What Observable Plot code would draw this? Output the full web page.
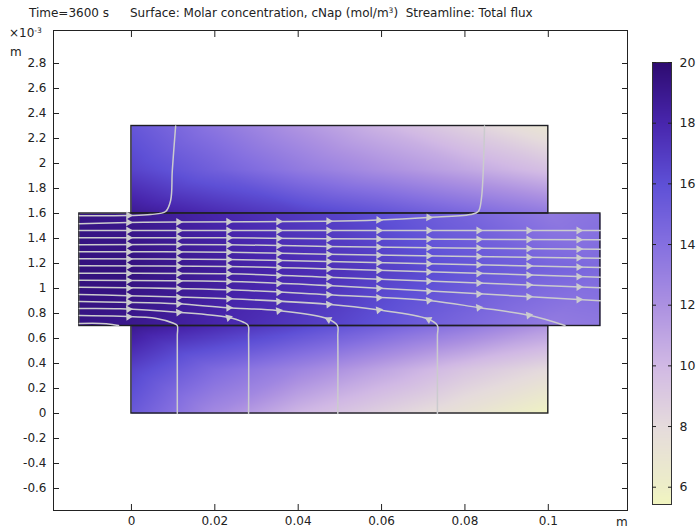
<!DOCTYPE html>
<html><head><meta charset="utf-8">
<script src="https://cdn.jsdelivr.net/npm/d3@7"></script>
<script src="https://cdn.jsdelivr.net/npm/@observablehq/plot@0.6"></script>
<style>
body{margin:0;background:#fff;font-family:"DejaVu Sans",sans-serif;}
#wrap{position:relative;width:700px;height:530px;overflow:hidden;background:#fff}
.t{position:absolute;font-size:12px;color:#222;white-space:pre;line-height:14px}
.t sup{font-size:7.5px;vertical-align:top;position:relative;top:-2px}
#main,#cbar{position:absolute;top:0}
#main{left:0}#cbar{left:630px}
</style></head><body>
<div id="wrap">
<div id="main"></div>
<div id="cbar"></div>
<div class="t" style="left:29px;top:6px">Time=3600 s</div>
<div class="t" style="left:130px;top:6px">Surface: Molar concentration, cNap (mol/m<sup>3</sup>)  Streamline: Total flux</div>
<div class="t" style="left:9px;top:26px">×10<sup>-3</sup></div>
<div class="t" style="left:10px;top:45px">m</div>
<div class="t" style="left:616px;top:515px">m</div>
</div>
<script>
// ---------- tick labels ----------
const xTicks = [0, 0.02, 0.04, 0.06, 0.08, 0.1];
const yTicks = [-0.6, -0.4, -0.2, 0, 0.2, 0.4, 0.6, 0.8, 1, 1.2, 1.4, 1.6, 1.8, 2, 2.2, 2.4, 2.6, 2.8];
const cbTicks = [6, 8, 10, 12, 14, 16, 18, 20];

// ---------- colour map (value -> colour) ----------
const colorStops = [5.43, 6, 8, 10, 12, 14, 16, 18, 20];
const colorRange = ["#f2f6c0", "#edeec8", "#e5dbdc", "#d1b9e4", "#ac91e1", "#8570e0", "#5e50d6", "#4826ad", "#2e0b70"];

// ---------- domains (x in m, y in 1e-3 m) ----------
const domainNames = ["upper", "lower", "channel"];
const domainX1 = [0, 0, -0.0125];
const domainX2 = [0.1, 0.1, 0.1125];
const domainY1 = [1.6, 0, 0.7];
const domainY2 = [2.3, 0.7, 1.6];

// ---------- concentration samples ----------
const upperX = [0, 0.02, 0.04, 0.06, 0.08, 0.1];
const upperY = [1.6, 1.95, 2.3];
const upperC = [
  [18.9, 17.8, 16.8, 15.8, 14.6, 13.4],
  [16.6, 15.0, 13.4, 12.1, 10.9, 9.6],
  [15.6, 13.6, 11.8, 10.2, 8.6, 7.0]
];
const lowerX = [0, 0.02, 0.04, 0.06, 0.08, 0.1];
const lowerY = [0, 0.35, 0.7];
const lowerC = [
  [15.4, 12.4, 10.1, 8.6, 7.2, 5.5],
  [16.6, 14.3, 12.7, 11.0, 9.3, 8.0],
  [19.0, 17.8, 16.5, 15.0, 13.5, 11.8]
];
const channelX = [-0.0125, 0, 0.025, 0.05, 0.075, 0.1, 0.1125];
const channelY = [0.7, 1.15, 1.6];
const channelC = [
  [19.3, 19.0, 17.8, 16.5, 14.8, 13.3, 13.5],
  [19.6, 19.5, 18.4, 17.4, 16.0, 14.8, 14.4],
  [19.3, 19.0, 17.8, 16.6, 15.0, 13.4, 13.8]
];

// ---------- streamlines (x in m, y in 1e-3 m) ----------
const streamX = [
  [-0.0125, -0.0007, 0.0046, 0.0082, 0.0094, 0.0098, 0.0106],
  [-0.0125, -0.0007, 0.0113, 0.047, 0.0592, 0.0712, 0.0813, 0.0832, 0.0839, 0.0847],
  [-0.0125, 0.0233, 0.047, 0.1125],
  [-0.0125, 0.0233, 0.047, 0.1125],
  [-0.0125, 0.0233, 0.047, 0.1125],
  [-0.0125, 0.0233, 0.047, 0.1125],
  [-0.0125, 0.0233, 0.047, 0.1125],
  [-0.0125, 0.0233, 0.047, 0.1125],
  [-0.0125, 0.0233, 0.047, 0.1125],
  [-0.0125, 0.0233, 0.047, 0.1125],
  [-0.0125, 0.0233, 0.047, 0.0712, 0.0832, 0.0957, 0.104],
  [-0.0125, 0.0233, 0.047, 0.059, 0.071, 0.0734, 0.0734, 0.0734],
  [-0.0125, -0.0026, 0.011, 0.023, 0.035, 0.047, 0.0494, 0.0495, 0.0495],
  [-0.0125, -0.0026, 0.011, 0.023, 0.0269, 0.028, 0.0281, 0.0281],
  [-0.0125, -0.0026, 0.0060, 0.0101, 0.011, 0.011, 0.011],
  [-0.0125, -0.0074, -0.0046, -0.0031]
];
const streamY = [
  [1.582, 1.584, 1.592, 1.616, 1.704, 1.944, 2.3],
  [1.518, 1.528, 1.532, 1.538, 1.548, 1.568, 1.592, 1.616, 1.704, 2.3],
  [1.464, 1.464, 1.464, 1.464],
  [1.406, 1.406, 1.398, 1.390],
  [1.350, 1.350, 1.336, 1.314],
  [1.294, 1.290, 1.274, 1.242],
  [1.238, 1.232, 1.216, 1.168],
  [1.182, 1.176, 1.158, 1.090],
  [1.122, 1.118, 1.090, 1.006],
  [1.066, 1.056, 1.024, 0.902],
  [1.010, 0.990, 0.950, 0.904, 0.848, 0.784, 0.704],
  [0.952, 0.918, 0.874, 0.830, 0.758, 0.704, 0.62, 0],
  [0.896, 0.890, 0.878, 0.846, 0.824, 0.758, 0.704, 0.62, 0],
  [0.840, 0.838, 0.810, 0.770, 0.730, 0.704, 0.62, 0],
  [0.784, 0.778, 0.760, 0.722, 0.704, 0.62, 0],
  [0.720, 0.720, 0.712, 0.704]
];
const arrowX = [-0.0007, 0.0113, 0.0233, 0.0353, 0.0473, 0.0593, 0.0713, 0.0833, 0.0953, 0.1073];

// ---------- build tables ----------
function gridTable(xs, ys, cs) {
  const out = [];
  ys.forEach((y, j) => xs.forEach((x, i) => out.push({x, y, c: cs[j][i]})));
  return out;
}
const upperTable = gridTable(upperX, upperY, upperC);
const lowerTable = gridTable(lowerX, lowerY, lowerC);
const channelTable = gridTable(channelX, channelY, channelC);
const domains = domainNames.map((n, i) => ({n, x1: domainX1[i], x2: domainX2[i], y1: domainY1[i], y2: domainY2[i]}));

const W = 700, H = 530, mL = 53, mR = 73, mT = 30, mB = 20;
const xDom = [-0.0187, 0.119], yDom = [-0.776, 3.064];
const kx = (W - mL - mR) / (xDom[1] - xDom[0]);
const ky = (H - mT - mB) / (yDom[1] - yDom[0]);

const streamPts = [];
const arrows = [];
streamX.forEach((xs, k) => {
  const ys = streamY[k];
  xs.forEach((x, i) => streamPts.push({id: k, x, y: ys[i]}));
  let turn = xs.length - 1;
  for (let i = 0; i < xs.length; i++) { if (ys[i] > 1.595 || ys[i] < 0.705) { turn = i; break; } }
  const turnX = xs[turn];
  for (const ax of arrowX) {
    if (ax < xs[0] || ax > turnX - 0.001) continue;
    for (let i = 0; i < turn; i++) {
      if (ax >= xs[i] && ax <= xs[i + 1]) {
        const t = (ax - xs[i]) / (xs[i + 1] - xs[i]);
        const ay = ys[i] + t * (ys[i + 1] - ys[i]);
        const ang = Math.atan2(-(ys[i + 1] - ys[i]) * ky, (xs[i + 1] - xs[i]) * kx) * 180 / Math.PI;
        arrows.push({x: ax, y: ay, r: 90 - ang});
        break;
      }
    }
  }
});

const color = {type: "linear", domain: colorStops, range: colorRange};
const fmt = d => String(+d.toFixed(2));
const style = {fontFamily: "DejaVu Sans, sans-serif", fontSize: "12px", color: "#222", background: "transparent", overflow: "visible"};

const main = Plot.plot({
  width: W, height: H, marginLeft: mL, marginRight: mR, marginTop: mT, marginBottom: mB,
  style,
  x: {domain: xDom}, y: {domain: yDom},
  color,
  marks: [
    Plot.raster(upperTable, {x: "x", y: "y", fill: "c", interpolate: "barycentric", x1: 0, x2: 0.1, y1: 1.6, y2: 2.3}),
    Plot.raster(lowerTable, {x: "x", y: "y", fill: "c", interpolate: "barycentric", x1: 0, x2: 0.1, y1: 0, y2: 0.7}),
    Plot.raster(channelTable, {x: "x", y: "y", fill: "c", interpolate: "barycentric", x1: -0.0125, x2: 0.1125, y1: 0.7, y2: 1.6}),
    Plot.rect(domains, {x1: "x1", x2: "x2", y1: "y1", y2: "y2", fill: "none", stroke: "#1e1e24", strokeWidth: 1.4}),
    Plot.line(streamPts, {x: "x", y: "y", z: "id", stroke: "#cbcbce", strokeWidth: 1.5, curve: "catmull-rom"}),
    Plot.dot(arrows, {x: "x", y: "y", symbol: "triangle", rotate: "r", r: 2.9, fill: "#cbcbce", stroke: "none"}),
    Plot.frame({stroke: "#222"}),
    Plot.axisX({anchor: "bottom", ticks: xTicks, tickSize: 0, tickPadding: 6, tickFormat: fmt, label: null}),
    Plot.axisX({anchor: "bottom", ticks: xTicks, tickSize: -6, tickFormat: () => "", label: null, stroke: "#222"}),
    Plot.axisX({anchor: "top", ticks: xTicks, tickSize: -6, tickFormat: () => "", label: null, stroke: "#222"}),
    Plot.axisY({anchor: "left", ticks: yTicks, tickSize: 0, tickPadding: 7, tickFormat: fmt, label: null}),
    Plot.axisY({anchor: "left", ticks: yTicks, tickSize: -6, tickFormat: () => "", label: null, stroke: "#222"}),
    Plot.axisY({anchor: "right", ticks: yTicks, tickSize: -6, tickFormat: () => "", label: null, stroke: "#222"})
  ]
});
document.getElementById("main").appendChild(main);

const cbar = Plot.plot({
  width: 70, height: H, marginTop: 62, marginBottom: 26, marginLeft: 22, marginRight: 29,
  style: {...style, fontSize: "12.5px"},
  x: {domain: [0, 1], axis: null},
  y: {domain: [5.43, 20]},
  color,
  marks: [
    Plot.raster({fill: (x, y) => y, x1: 0, x2: 1, y1: 5.43, y2: 20}),
    Plot.frame({stroke: "#333"}),
    Plot.axisY({anchor: "right", ticks: cbTicks, tickSize: 0, tickPadding: 8, tickFormat: fmt, label: null}),
    Plot.axisY({anchor: "right", ticks: cbTicks, tickSize: -4, tickFormat: () => "", label: null}),
    Plot.axisY({anchor: "left", ticks: cbTicks, tickSize: -4, tickFormat: () => "", label: null})
  ]
});
document.getElementById("cbar").appendChild(cbar);
</script>
</body></html>
